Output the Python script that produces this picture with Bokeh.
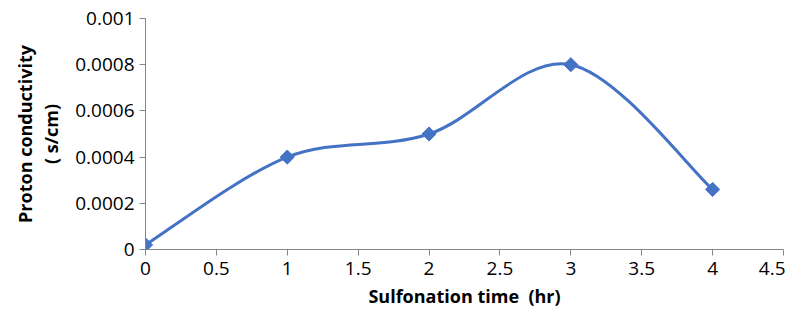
import numpy as np
from bokeh.plotting import figure
from bokeh.models import ColumnDataSource, FixedTicker, Range1d
from bokeh.embed import file_html
from bokeh.resources import INLINE

# ---- data ----
time_hr = [0, 1, 2, 3, 4]
conductivity = [0.00002, 0.0004, 0.0005, 0.0008, 0.00026]
x_ticks = [0, 0.5, 1, 1.5, 2, 2.5, 3, 3.5, 4, 4.5]
x_tick_labels = ["0", "0.5", "1", "1.5", "2", "2.5", "3", "3.5", "4", "4.5"]
y_ticks = [0, 0.0002, 0.0004, 0.0006, 0.0008, 0.001]
y_tick_labels = ["0", "0.0002", "0.0004", "0.0006", "0.0008", "0.001"]
x_title = "Sulfonation time\u00a0\u00a0(hr)"
y_title = "Proton conductivity\n(\u00a0s/cm)"

BLUE = "#4472C4"
AXIS = "#868686"
FONT = "Open Sans"

# smoothed (Catmull-Rom -> Bezier, as Excel's smoothed line)
xs = np.array(time_hr, dtype=float)
ys = np.array(conductivity, dtype=float)
n = len(xs)
seg = dict(x0=[], y0=[], x1=[], y1=[], cx0=[], cy0=[], cx1=[], cy1=[])
for i in range(n - 1):
    p0 = max(i - 1, 0)
    p3 = min(i + 2, n - 1)
    seg["x0"].append(xs[i]); seg["y0"].append(ys[i])
    seg["x1"].append(xs[i + 1]); seg["y1"].append(ys[i + 1])
    seg["cx0"].append(xs[i] + (xs[i + 1] - xs[p0]) / 6)
    seg["cy0"].append(ys[i] + (ys[i + 1] - ys[p0]) / 6)
    seg["cx1"].append(xs[i + 1] - (xs[p3] - xs[i]) / 6)
    seg["cy1"].append(ys[i + 1] - (ys[p3] - ys[i]) / 6)

p = figure(width=785, height=310, output_backend="svg", toolbar_location=None,
           x_range=Range1d(0, 4.5), y_range=Range1d(0, 0.001),
           min_border_left=145, min_border_right=2, min_border_top=18, min_border_bottom=60)
p.outline_line_color = None
p.grid.visible = False
p.background_fill_color = "white"

p.bezier(x0="x0", y0="y0", x1="x1", y1="y1", cx0="cx0", cy0="cy0", cx1="cx1", cy1="cy1",
         source=ColumnDataSource(seg), line_color=BLUE, line_width=3)
p.scatter(time_hr, conductivity, marker="square", angle=np.pi / 4, size=10,
          fill_color=BLUE, line_color=BLUE)

for ax, ticks, labels in ((p.xaxis[0], x_ticks, x_tick_labels), (p.yaxis[0], y_ticks, y_tick_labels)):
    ax.ticker = FixedTicker(ticks=ticks)
    ax.major_label_overrides = {t: l for t, l in zip(ticks, labels)}
    ax.minor_tick_line_color = None
    ax.axis_line_color = AXIS
    ax.major_tick_line_color = AXIS
    ax.major_tick_out = 6
    ax.major_tick_in = 0
    ax.major_label_text_font = FONT
    ax.major_label_text_font_size = "19px"
    ax.major_label_text_color = "#000000"
    ax.axis_label_text_font = FONT
    ax.axis_label_text_font_style = "bold"
    ax.axis_label_text_font_size = "18px"
    ax.axis_label_text_color = "#000000"

p.xaxis.major_label_standoff = 6
p.yaxis.major_label_standoff = 5
p.xaxis.axis_label = x_title
p.xaxis.axis_label_standoff = 6
p.yaxis.axis_label = y_title
p.yaxis.axis_label_standoff = 9
p.yaxis.axis_label_text_line_height = 1.1

open("out.html", "w").write(file_html(p, INLINE))
